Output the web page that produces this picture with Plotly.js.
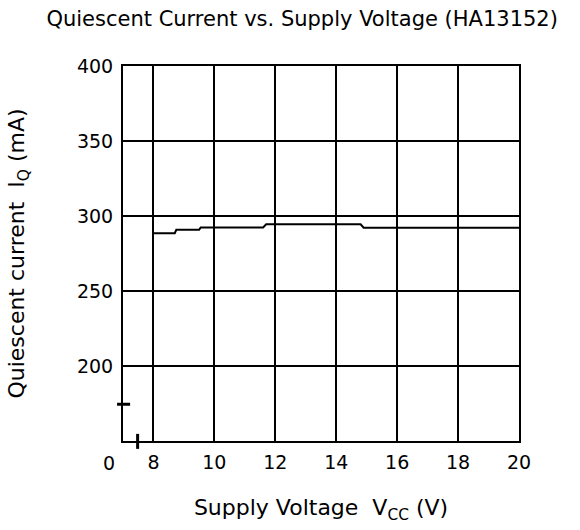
<!DOCTYPE html>
<html>
<head>
<meta charset="utf-8">
<script src="https://cdn.plot.ly/plotly-3.0.1.min.js"></script>
<style>
  html, body { margin: 0; padding: 0; background: #fff; }
  #chart { width: 580px; height: 530px; }
</style>
</head>
<body>
<div id="chart"></div>
<script>
  // values
  const supplyVoltage = [8, 8.7, 8.75, 9.5, 9.55, 11.6, 11.7, 14.8, 14.9, 20];
  const quiescentCurrent = [288.5, 288.5, 290.8, 290.8, 292.4, 292.4, 294.5, 294.5, 292.2, 292.2];

  const xTicks = [8, 10, 12, 14, 16, 18, 20];
  const yTicks = [200, 250, 300, 350, 400];

  const font = { family: 'DejaVu Sans, Liberation Sans, sans-serif', color: '#000' };

  const axisBase = {
    showline: true, mirror: true, linecolor: '#000', linewidth: 2,
    showgrid: true, gridcolor: '#000', gridwidth: 2,
    zeroline: false, ticks: '', automargin: false,
    tickfont: { ...font, size: 19 }
  };

  const layout = {
    width: 580, height: 530,
    paper_bgcolor: '#fff', plot_bgcolor: '#fff',
    margin: { l: 123, r: 61, t: 66, b: 89 },
    showlegend: false,
    font: font,
    title: {
      text: 'Quiescent Current vs. Supply Voltage (HA13152)',
      font: { ...font, size: 21 },
      xref: 'container', x: 0.521, xanchor: 'center',
      yref: 'container', y: 0.964, yanchor: 'middle'
    },
    xaxis: {
      ...axisBase,
      range: [7, 20],
      tickvals: xTicks,
      ticktext: xTicks.map(String),
      ticklabelstandoff: 3,
      title: { text: 'Supply Voltage  V<sub>CC</sub> (V)', font: { ...font, size: 22 }, standoff: 28 }
    },
    yaxis: {
      ...axisBase,
      range: [150, 400],
      tickvals: yTicks,
      ticktext: yTicks.map(String),
      ticklabelstandoff: 4,
      title: { text: 'Quiescent current  I<sub>Q</sub> (mA)', font: { ...font, size: 22 }, standoff: 46 }
    },
    annotations: [
      { text: '0', xref: 'paper', yref: 'paper', x: -0.035, y: 0, xanchor: 'center', yanchor: 'middle', yshift: -22,
        showarrow: false, font: { ...font, size: 19 } }
    ],
    shapes: [
      // axis break marks
      { type: 'line', xref: 'paper', yref: 'y', x0: -0.015, x1: 0.018, y0: 174.5, y1: 174.5,
        line: { color: '#000', width: 3 } },
      { type: 'line', xref: 'x', yref: 'paper', x0: 7.48, x1: 7.48, y0: -0.021, y1: 0.019,
        line: { color: '#000', width: 3 } }
    ]
  };

  Plotly.newPlot('chart', [{
    x: supplyVoltage, y: quiescentCurrent,
    type: 'scatter', mode: 'lines',
    line: { color: '#000', width: 2 },
    hoverinfo: 'skip'
  }], layout, { displayModeBar: false, staticPlot: true });
</script>
</body>
</html>
